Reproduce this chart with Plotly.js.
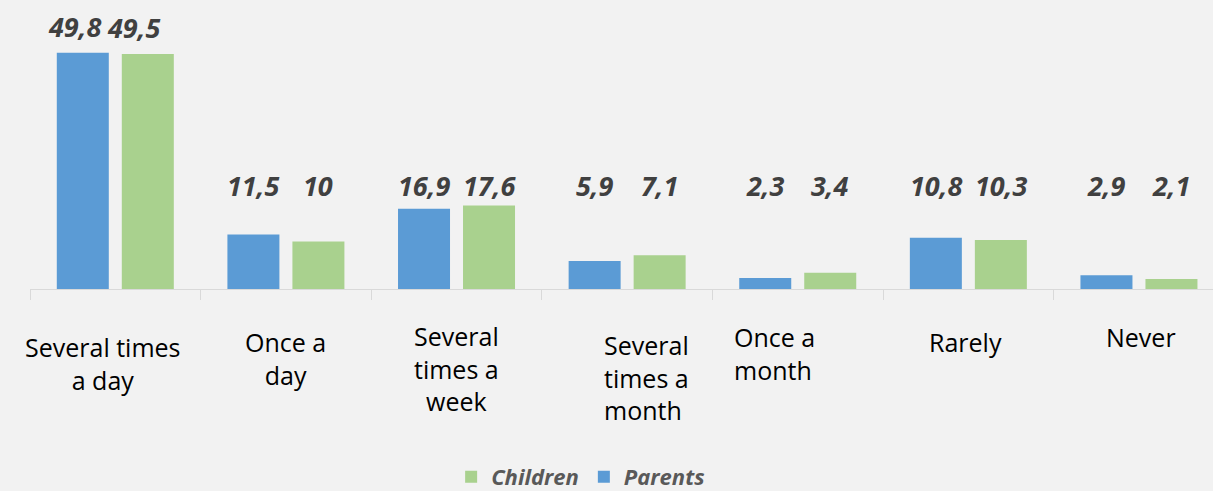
<!DOCTYPE html>
<html>
<head>
<meta charset="utf-8">
<script src="https://cdn.plot.ly/plotly-3.0.1.min.js"></script>
<style>html,body{margin:0;padding:0;background:#f2f2f2;}#chart{width:1213px;height:491px;}</style>
</head>
<body>
<div id="chart"></div>
<script>
// ---- data ----
const categories = ["Several times a day", "Once a day", "Several times a week", "Several times a month", "Once a month", "Rarely", "Never"];
const categoryLabels = ["Several times<br>a day", "Once a<br>day", "Several<br>times a<br>week", "Several<br>times a<br>month", "Once a<br>month", "Rarely", "Never"];
const parents = [49.8, 11.5, 16.9, 5.9, 2.3, 10.8, 2.9];
const children = [49.5, 10, 17.6, 7.1, 3.4, 10.3, 2.1];
const seriesNames = ["Parents", "Children"];

// ---- style (positions of category labels, as in the original) ----
const catLabelStyle = [
  {dx: -12, dy: 0,  align: "center"},
  {dx: 0,   dy: -5, align: "center"},
  {dx: 0,   dy: -11, align: "center"},
  {dx: -25, dy: -2, align: "left"},
  {dx: -66, dy: -10, align: "left"},
  {dx: -3,  dy: -5, align: "center"},
  {dx: 2,   dy: -10, align: "center"}
];
const blue = "#5b9bd5", green = "#a9d18e";
const labelFont = {family: "Open Sans", size: 27, color: "#404040", weight: "bold", style: "italic"};

const traces = [
  {type: "bar", name: seriesNames[0], x: categories, y: parents, marker: {color: blue}, hoverinfo: "none"},
  {type: "bar", name: seriesNames[1], x: categories, y: children, marker: {color: green}, hoverinfo: "none"}
];

const fmt = v => String(v).replace(".", ",");
const annotations = [];
const slotPx = 65;
[parents, children].forEach((arr, si) => {
  arr.forEach((v, i) => {
    const top = v > 30;
    annotations.push({
      xref: "x", yref: "y", x: categories[i],
      y: top ? v + 5.6 : 21.9,
      xshift: (si === 0 ? -slotPx / 2 : slotPx / 2) + (top ? (si === 0 ? -8 : -14) : 0),
      text: fmt(v), showarrow: false, yanchor: "middle", xanchor: "center",
      font: labelFont
    });
  });
});
categories.forEach((c, i) => {
  const s = catLabelStyle[i];
  annotations.push({
    xref: "x", yref: "paper", x: c, y: 0, yanchor: "top",
    xanchor: s.align === "left" ? "left" : "center", align: s.align,
    yshift: -39 - s.dy, xshift: s.dx,
    text: categoryLabels[i], showarrow: false,
    font: {family: "Open Sans", size: 25, color: "#000000"}
  });
});

const layout = {
  width: 1213, height: 491,
  margin: {l: 30, r: 0, t: 0, b: 202, pad: 0},
  paper_bgcolor: "#f2f2f2", plot_bgcolor: "#f2f2f2",
  barmode: "group", bargap: 0.238, bargroupgap: 0.2,
  xaxis: {
    type: "category", range: [-0.5, 6.434],
    showticklabels: false, showgrid: false, zeroline: false,
    showline: true, linecolor: "#d9d9d9", linewidth: 1,
    ticks: "outside", tickson: "boundaries", ticklen: 10, tickcolor: "#d9d9d9",
    fixedrange: true
  },
  yaxis: {visible: false, range: [0, 60.9], showgrid: false, zeroline: false, fixedrange: true},
  showlegend: true,
  legend: {
    orientation: "h", x: 0.356, xanchor: "left",
    yref: "container", y: 0.0285, yanchor: "middle",
    traceorder: "reversed", bgcolor: "rgba(0,0,0,0)",
    font: {family: "Open Sans", size: 22, color: "#595959", weight: "bold", style: "italic"},
    itemwidth: 30
  },
  annotations: annotations
};

Plotly.newPlot("chart", traces, layout, {displayModeBar: false, staticPlot: true});
</script>
</body>
</html>
